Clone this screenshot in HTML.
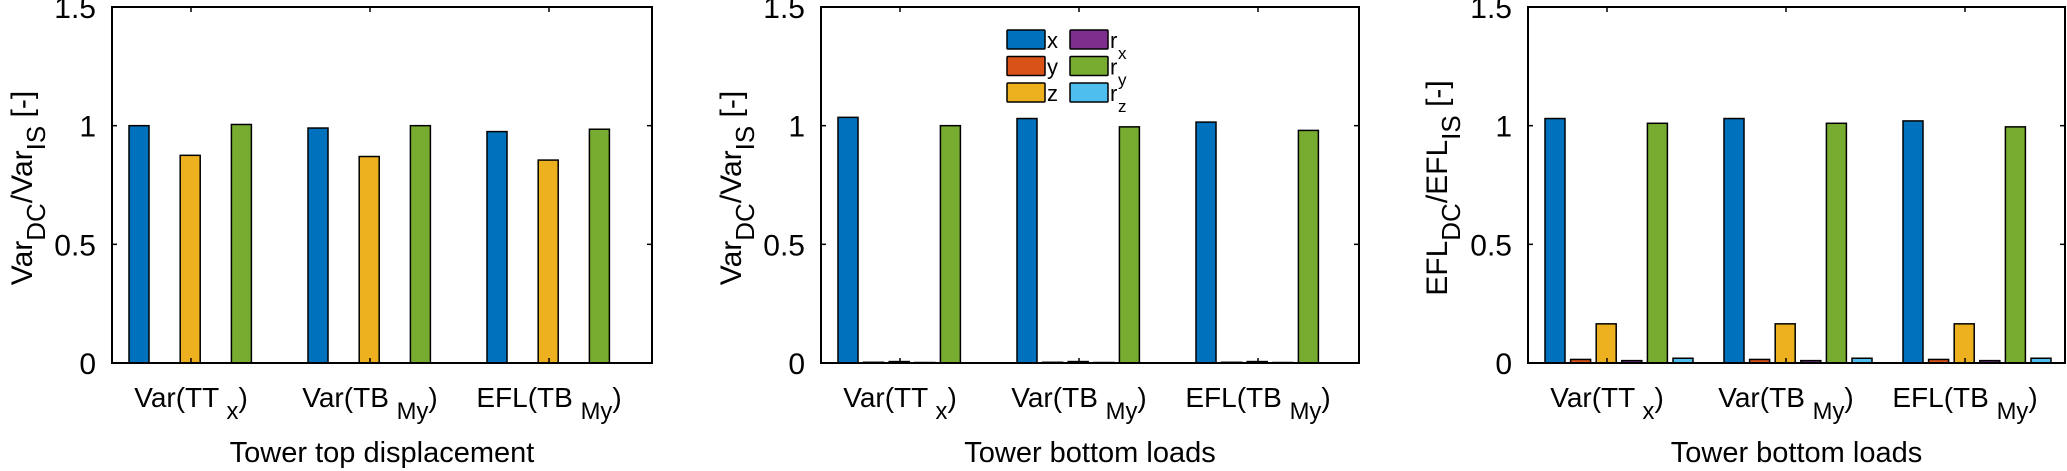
<!DOCTYPE html>
<html><head><meta charset="utf-8">
<style>
html,body{margin:0;padding:0;background:#fff;}
svg{display:block;font-family:"Liberation Sans",Arial,sans-serif;}
</style></head>
<body>
<svg id="chart" width="2067" height="471" viewBox="0 0 2067 471" xmlns="http://www.w3.org/2000/svg"></svg>
<script>
const categories = ["Var(TT_x)", "Var(TB_My)", "EFL(TB_My)"];
const seriesNames = ["x", "y", "z", "r_x", "r_y", "r_z"];
const yTicks = [0, 0.5, 1, 1.5];
const yTickLabels = ["0", "0.5", "1", "1.5"];
// panel 1: tower top displacement
const p1x  = [1.0, 0.99, 0.975];
const p1y  = [0, 0, 0];
const p1z  = [0.875, 0.87, 0.855];
const p1rx = [0, 0, 0];
const p1ry = [1.005, 1.0, 0.985];
const p1rz = [0, 0, 0];
// panel 2: tower bottom loads (variance)
const p2x  = [1.035, 1.03, 1.015];
const p2y  = [0.003, 0.003, 0.003];
const p2z  = [0.006, 0.006, 0.006];
const p2rx = [0.002, 0.002, 0.002];
const p2ry = [1.0, 0.995, 0.98];
const p2rz = [0, 0, 0];
// panel 3: tower bottom loads (EFL)
const p3x  = [1.03, 1.03, 1.02];
const p3y  = [0.015, 0.015, 0.015];
const p3z  = [0.165, 0.165, 0.165];
const p3rx = [0.01, 0.01, 0.01];
const p3ry = [1.01, 1.01, 0.995];
const p3rz = [0.02, 0.02, 0.02];

const colors = ["#0072BD","#D95319","#EDB120","#7E2F8E","#77AC30","#4DBEEE"];
const NS = "http://www.w3.org/2000/svg";
const svg = document.getElementById("chart");
function mk(tag, attrs, parent){
  const e = document.createElementNS(NS, tag);
  for (const k in attrs) e.setAttribute(k, attrs[k]);
  (parent||svg).appendChild(e);
  return e;
}
const TOP = 7, BOT = 363;
function yScale(v){ return BOT - (v/1.5)*(BOT-TOP); }

function labelText(parent, x, y, str, size, anchor){
  // str like "Var(TT_x)" -> main + subscript + ")"
  const t = mk("text", {x:x, y:y, "font-size":size, "text-anchor":anchor||"middle", fill:"#000"}, parent);
  const m = str.match(/^(.*)_(\w+)(\)?)$/);
  if (m){
    const a = document.createElementNS(NS,"tspan"); a.textContent = m[1]+" "; t.appendChild(a);
    const b = document.createElementNS(NS,"tspan"); b.setAttribute("dy","12"); b.setAttribute("font-size", size*0.85); b.textContent = m[2]; t.appendChild(b);
    const c = document.createElementNS(NS,"tspan"); c.setAttribute("dy","-12"); c.textContent = m[3]; t.appendChild(c);
  } else t.textContent = str;
  return t;
}

function panel(id, left, right, series, xlabel, ylabelMain, ylabelSub, ylx){
  const g = mk("g", {});
  
  
  const tick0 = left + 79, step = 179;
  function xScale(ci){ return tick0 + ci*step; }
  // bars
  series.forEach((vals, si) => {
    vals.forEach((v, ci) => {
      const cx = xScale(ci) - 52 + si*25.6;
      const y = yScale(v);
      const r = mk("rect", {x: cx-10, y: y, width: 20, height: Math.max(BOT-y, 0.01), fill: colors[si], stroke:"#000", "stroke-width":1.5}, g);
      
      
    });
  });
  // axes box
  const box = mk("rect", {x:left, y:TOP, width:right-left, height:BOT-TOP, fill:"none", stroke:"#000", "stroke-width":2}, g);
  
  
  // y ticks
  yTicks.forEach((v, i) => {
    const y = yScale(v);
    mk("line", {x1:left, x2:left+5, y1:y, y2:y, stroke:"#000", "stroke-width":1.5}, g);
    mk("line", {x1:right, x2:right-5, y1:y, y2:y, stroke:"#000", "stroke-width":1.5}, g);
    const t = mk("text", {x:left-16, y:y+11, "font-size":30, "text-anchor":"end", fill:"#000"}, g);
    t.textContent = yTickLabels[i];
    
    
  });
  // x ticks & labels
  categories.forEach((c, ci) => {
    const x = xScale(ci);
    mk("line", {x1:x, x2:x, y1:BOT, y2:BOT-5, stroke:"#000", "stroke-width":1.5}, g);
    mk("line", {x1:x, x2:x, y1:TOP, y2:TOP+5, stroke:"#000", "stroke-width":1.5}, g);
    const t = labelText(g, x, 407, c, 28);
    
    
  });
  // x label
  const xl = mk("text", {x:(left+right)/2, y:462, "font-size":29, "text-anchor":"middle", fill:"#000"}, g);
  xl.textContent = xlabel;
  
  
  // y label
  const yl = mk("text", {x:0, y:0, "font-size":30, "text-anchor":"middle", fill:"#000", transform:"translate("+ylx+",188) rotate(-90)"}, g);
  
  
  const parts = [[ylabelMain,0],[ "DC",13],[ "/"+ylabelMain,-13],["IS",13],[" [-]",-13]];
  parts.forEach(p => {
    const s = document.createElementNS(NS,"tspan");
    s.setAttribute("dy", p[1]);
    if (p[1] > 0) s.setAttribute("font-size", 26);
    s.textContent = p[0];
    yl.appendChild(s);
  });
}

panel("panel-tower-top", 112, 652, [p1x,p1y,p1z,p1rx,p1ry,p1rz], "Tower top displacement", "Var", "", 32);
panel("panel-tower-bottom-var", 821, 1359, [p2x,p2y,p2z,p2rx,p2ry,p2rz], "Tower bottom loads", "Var", "", 741);
panel("panel-tower-bottom-efl", 1528, 2065, [p3x,p3y,p3z,p3rx,p3ry,p3rz], "Tower bottom loads", "EFL", "", 1447);

// legend in panel 2
const lg = mk("g", {});


const legendMain = ["x","y","z","r","r","r"];
const legendSub = ["","","","x","y","z"];
seriesNames.forEach((n, i) => {
  const col = Math.floor(i/3), row = i%3;
  const bx = 1007 + col*63, by = 30 + row*26.5;
  const r = mk("rect", {x:bx, y:by, width:38, height:19, fill:colors[i], stroke:"#000", "stroke-width":1.5, rx:1}, lg);
  
  
  const t = mk("text", {x:bx+40, y:by+18, "font-size":22, fill:"#000"}, lg);
  t.textContent = legendMain[i];
  
  
  if (legendSub[i]){
    const s = mk("text", {x:bx+48, y:by+29, "font-size":17, fill:"#000"}, lg);
    s.textContent = legendSub[i];
    
    
  }
});
</script>
</body></html>
